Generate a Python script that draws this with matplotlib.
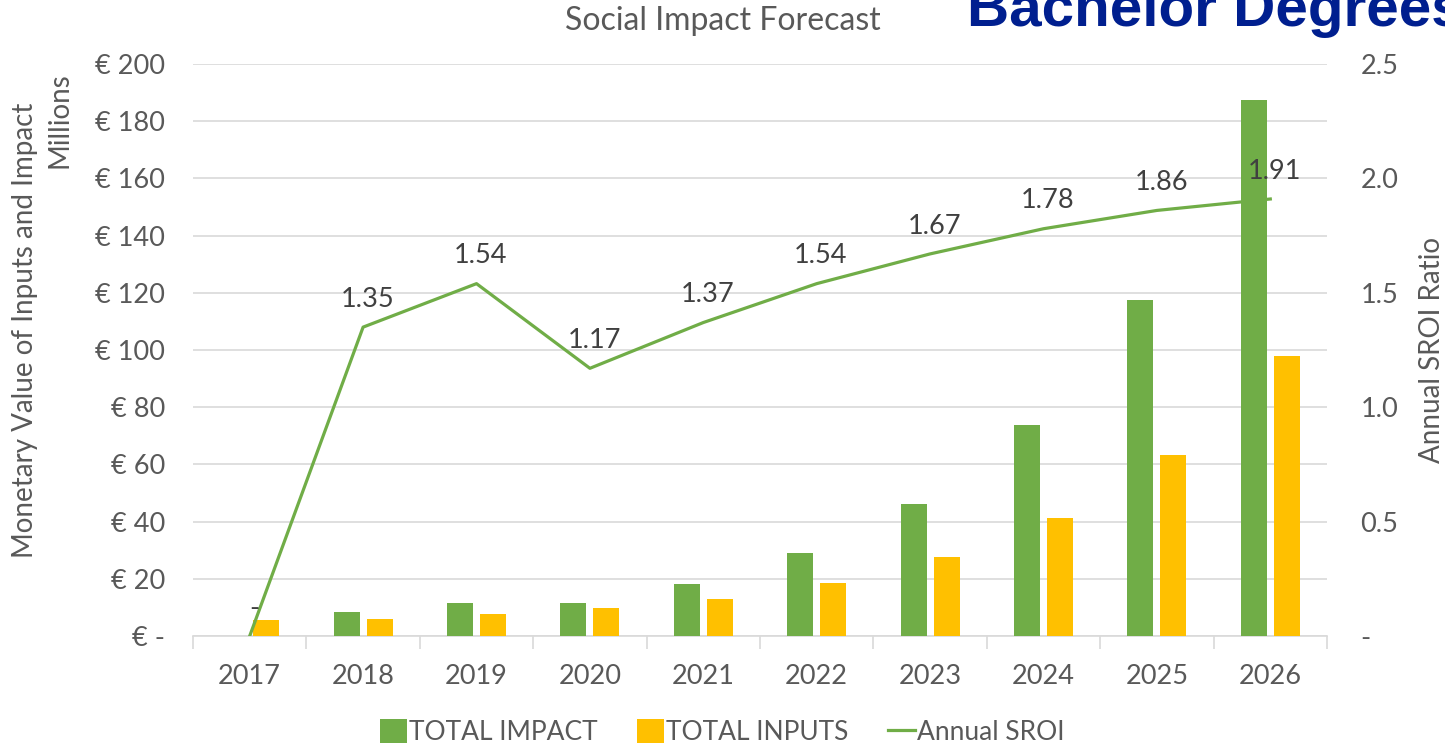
import matplotlib
matplotlib.use("Agg")
import matplotlib.pyplot as plt
from matplotlib.ticker import FuncFormatter, FixedLocator
from matplotlib.patches import Patch
from matplotlib.lines import Line2D

years = ["2017", "2018", "2019", "2020", "2021", "2022", "2023", "2024", "2025", "2026"]
total_impact = [0.0, 8.4, 11.5, 11.5, 18.2, 29.0, 46.2, 73.8, 117.5, 187.4]
total_inputs = [5.6, 5.9, 7.7, 9.8, 12.9, 18.5, 27.6, 41.3, 63.4, 97.9]
annual_sroi = [0.0, 1.35, 1.54, 1.17, 1.37, 1.54, 1.67, 1.78, 1.86, 1.91]
sroi_labels = ["-", "1.35", "1.54", "1.17", "1.37", "1.54", "1.67", "1.78", "1.86", "1.91"]

GREEN = "#70AD47"
YELLOW = "#FFC000"
TXT = "#595959"
GRID = "#D9D9D9"
FONT = ["Lato", "DejaVu Sans"]

plt.rcParams["font.family"] = FONT

W, H = 1445, 745
fig = plt.figure(figsize=(W / 100, H / 100), dpi=100)
ax = fig.add_axes([193 / W, 1 - 636 / H, (1327 - 193) / W, (636 - 64) / H])
ax2 = ax.twinx()

x = list(range(len(years)))
w = 0.23
off = 0.145
ax.bar([i - off for i in x], total_impact, width=w, color=GREEN, zorder=3)
ax.bar([i + off for i in x], total_inputs, width=w, color=YELLOW, zorder=3)

ax.set_xlim(-0.5, len(years) - 0.5)
ax.set_ylim(0, 200)
ax.set_yticks(range(0, 201, 20))
ax.yaxis.set_major_formatter(FuncFormatter(lambda v, p: "€ -" if v == 0 else f"€ {int(v)}"))
ax.grid(axis="y", color=GRID, linewidth=1.2, zorder=0)
ax.set_axisbelow(True)
for s in ["top", "left", "right"]:
    ax.spines[s].set_visible(False)
ax.spines["bottom"].set_color(GRID)
ax.spines["bottom"].set_linewidth(1.2)
ax.set_xticks(x)
ax.set_xticklabels(years)
ax.tick_params(axis="x", which="major", length=0, pad=20, labelsize=19.5, labelcolor=TXT)
ax.xaxis.set_minor_locator(FixedLocator([i - 0.5 for i in range(len(years) + 1)]))
ax.tick_params(axis="x", which="minor", length=9, color=GRID, width=1.2)
ax.tick_params(axis="y", length=0, pad=20, labelsize=19.5, labelcolor=TXT)

ax2.plot(x, annual_sroi, color=GREEN, linewidth=2.3, zorder=4)
ax2.set_ylim(0, 2.5)
ax2.set_yticks([0, 0.5, 1.0, 1.5, 2.0, 2.5])
ax2.yaxis.set_major_formatter(FuncFormatter(lambda v, p: "-" if v == 0 else f"{v:.1f}"))
ax2.tick_params(axis="y", length=0, pad=24, labelsize=19.5, labelcolor=TXT)
for s in ["top", "left", "right", "bottom"]:
    ax2.spines[s].set_visible(False)
for xi, yi, lab in zip(x, annual_sroi, sroi_labels):
    ax2.annotate(lab, (xi, yi), xytext=(3, 20), textcoords="offset points",
                 ha="center", va="center", fontsize=19.5, color="#404040", zorder=5)

fig.text(1432 / W, 1 - 350 / H, "Annual SROI Ratio", rotation=90,
         ha="center", va="center", fontsize=20, color=TXT)
fig.text(25 / W, 1 - 330 / H, "Monetary Value of Inputs and Impact", rotation=90,
         ha="center", va="center", fontsize=20, color=TXT)
fig.text(60 / W, 1 - 72 / H, "Millions", rotation=90, ha="center", va="top", fontsize=20, color=TXT)

fig.text(723 / W, 1 - 21 / H, "Social Impact Forecast", ha="center", va="center", fontsize=23, color=TXT)
fig.text(967 / W, 1 - 26 / H, "Bachelor Degrees", ha="left", va="baseline",
         fontsize=42, fontweight="bold", color="#001F8F", family=["Liberation Sans", "DejaVu Sans"])

handles = [Patch(facecolor=GREEN, label="TOTAL IMPACT"),
           Patch(facecolor=YELLOW, label="TOTAL INPUTS"),
           Line2D([0], [0], color=GREEN, linewidth=2.3, label="Annual SROI")]
leg = fig.legend(handles=handles, loc="center", bbox_to_anchor=(0.5, 1 - 732 / H), ncol=3,
                 frameon=False, fontsize=19, handlelength=1.0, handleheight=1.0,
                 handletextpad=0.1, columnspacing=1.5)
for t in leg.get_texts():
    t.set_color(TXT)

fig.savefig("out.png", dpi=100)
